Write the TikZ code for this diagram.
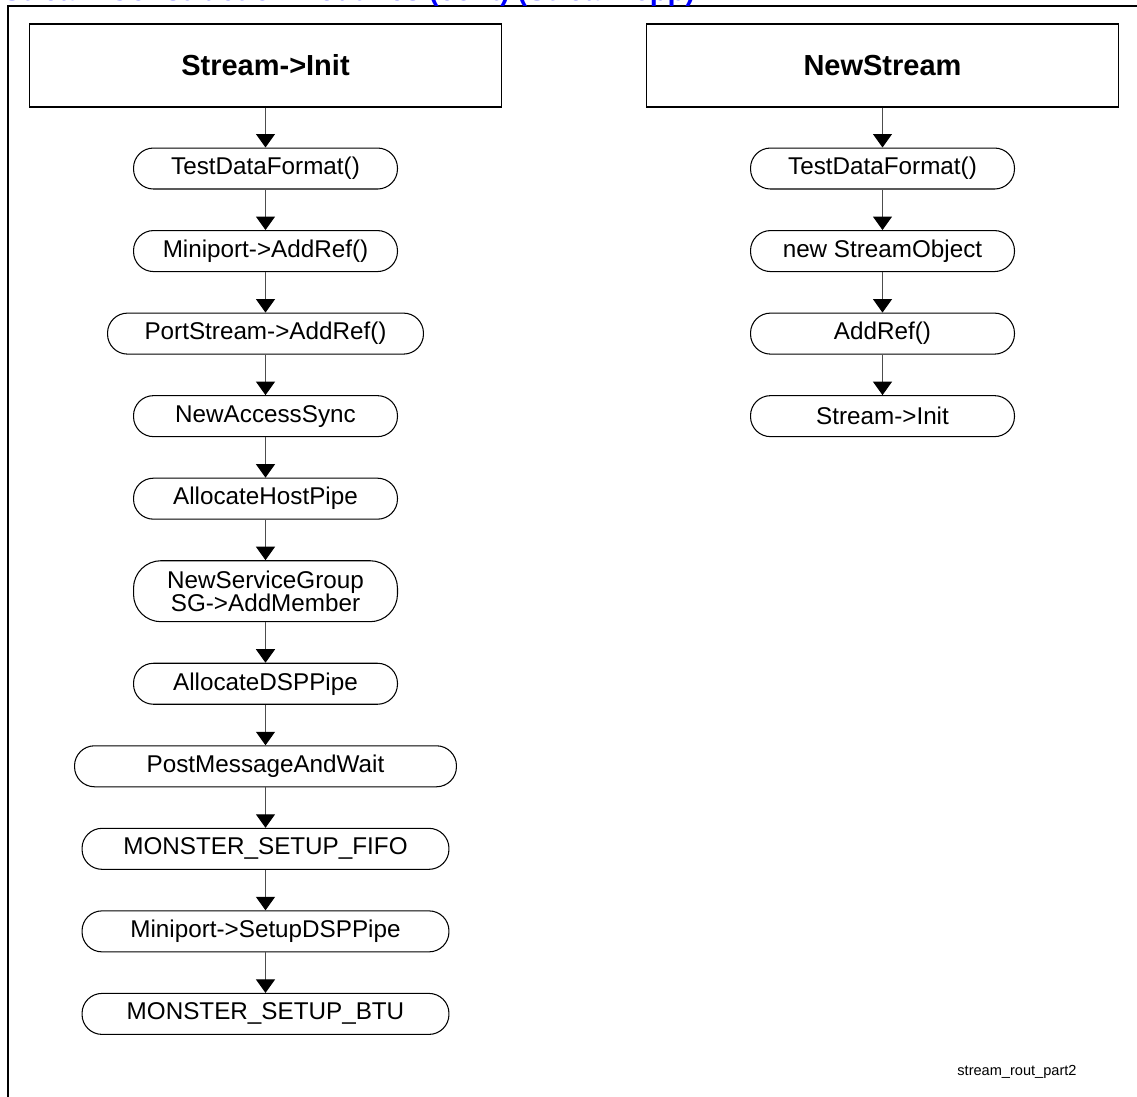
\documentclass[tikz,border=0pt]{standalone}
\usepackage{fontspec}
\setmainfont{Liberation Sans}
\usepackage{xcolor}
\usepackage{tikz}
\definecolor{titleblue}{HTML}{0000FF}
\definecolor{linegray}{HTML}{4D4D4D}
\usetikzlibrary{arrows.meta, positioning}

\begin{document}
\begin{tikzpicture}[
    x=0.02cm, y=-0.02cm,
    header/.style={draw, line width=0.6pt, minimum width=9.46cm, minimum height=1.66cm, font=\fontsize{16.5}{19}\selectfont\bfseries},
    call/.style={draw, line width=0.6pt, rounded corners=0.4cm, minimum width=5.28cm, minimum height=0.82cm, inner ysep=0.05cm, align=center, font=\fontsize{13.8}{13.4}\selectfont},
    arrow/.style={-{Triangle[width=0.38cm, length=0.27cm, color=black]}, draw=linegray, line width=0.6pt}
]
    \useasboundingbox (0,0) rectangle (1137,1097);

    % Frame and title (cut off at the top edge)
    \draw[line width=1.5pt] (8,1120) -- (8,6) -- (1160,6);
    \node[anchor=base west, inner sep=0, text=titleblue, font=\fontsize{16.5}{19}\selectfont\bfseries] (title) at (2,0.5) {Stream Construction Routines (cont) (Stream.cpp)};

    \node[header] (sinit) at (265.5,65.5) {Stream->Init};
    \node[header] (nstream) at (882.5,65.5) {NewStream};

    % Stream->Init
    \node[call, below=0.8cm of sinit] (s1) {TestDataFormat()};
    \node[call, below=0.81cm of s1] (s2) {Miniport->AddRef()};
    \node[call, minimum width=6.32cm, below=0.81cm of s2] (s3) {PortStream->AddRef()};
    \node[call, below=0.81cm of s3] (s4) {NewAccessSync};
    \node[call, below=0.81cm of s4] (s5) {AllocateHostPipe};
    \node[call, rounded corners=0.55cm, minimum height=1.22cm, below=0.81cm of s5] (s6) {NewServiceGroup\\SG->AddMember};
    \node[call, below=0.81cm of s6] (s7) {AllocateDSPPipe};
    \node[call, minimum width=7.64cm, below=0.81cm of s7] (s8) {PostMessageAndWait};
    \node[call, minimum width=7.34cm, below=0.81cm of s8] (s9) {MONSTER\_SETUP\_FIFO};
    \node[call, minimum width=7.34cm, below=0.81cm of s9] (s10) {Miniport->SetupDSPPipe};
    \node[call, minimum width=7.34cm, below=0.81cm of s10] (s11) {MONSTER\_SETUP\_BTU};

    \draw[arrow] (sinit) -- (s1);
    \draw[arrow] (s1) -- (s2);
    \draw[arrow] (s2) -- (s3);
    \draw[arrow] (s3) -- (s4);
    \draw[arrow] (s4) -- (s5);
    \draw[arrow] (s5) -- (s6);
    \draw[arrow] (s6) -- (s7);
    \draw[arrow] (s7) -- (s8);
    \draw[arrow] (s8) -- (s9);
    \draw[arrow] (s9) -- (s10);
    \draw[arrow] (s10) -- (s11);

    % NewStream
    \node[call, below=0.8cm of nstream] (n1) {TestDataFormat()};
    \node[call, below=0.81cm of n1] (n2) {new StreamObject};
    \node[call, below=0.81cm of n2] (n3) {AddRef()};
    \node[call, below=0.81cm of n3] (n4) {Stream->Init};

    \draw[arrow] (nstream) -- (n1);
    \draw[arrow] (n1) -- (n2);
    \draw[arrow] (n2) -- (n3);
    \draw[arrow] (n3) -- (n4);

    % Label
    \node[font=\fontsize{8.3}{10}\selectfont] (tag) at (1017,1072) {stream\_rout\_part2};
\end{tikzpicture}
\end{document}
